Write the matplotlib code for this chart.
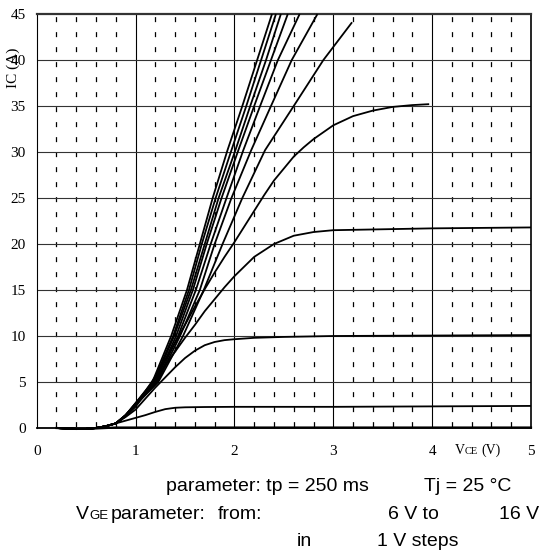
import matplotlib
matplotlib.use('Agg')
import matplotlib.pyplot as plt

plt.rcParams['lines.scale_dashes'] = False

W, H = 553, 551

# axis ticks
x_major = [1, 2, 3, 4]
x_minor = [0.2, 0.4, 0.6, 0.8, 1.2, 1.4, 1.6, 1.8, 2.2, 2.4, 2.6, 2.8,
           3.2, 3.4, 3.6, 3.8, 4.2, 4.4, 4.6, 4.8]
y_major = [5, 10, 15, 20, 25, 30, 35, 40]
x_ticks = [0, 1, 2, 3, 4, 5]
y_ticks = [0, 5, 10, 15, 20, 25, 30, 35, 40, 45]

# shared foot of the curves
vce_foot = [0.2, 0.3, 0.4, 0.5, 0.6, 0.7, 0.8]
ic_foot = [0.0, -0.05, -0.1, -0.1, 0.0, 0.2, 0.5]

# lowest curve, stays on the axis
vce_c1 = [0.2, 0.4, 0.6, 0.8, 1.0, 2.0, 3.0, 4.0, 5.0]
ic_c1 = [0.0, -0.1, -0.05, 0.05, 0.05, 0.05, 0.05, 0.05, 0.05]

# the other curves, lowest to highest gate voltage (foot added on plot)
vce_c2 = [0.9, 1.0, 1.1, 1.2, 1.3, 1.4, 1.5, 1.7, 2.0, 3.0, 4.0, 5.0]
ic_c2 = [0.8, 1.1, 1.4, 1.75, 2.05, 2.2, 2.25, 2.28, 2.3, 2.3, 2.35, 2.4]

vce_c3 = [0.9, 1.0, 1.1, 1.2, 1.3, 1.4, 1.5, 1.6, 1.7, 1.8, 1.9, 2.0,
          2.2, 2.5, 3.0, 4.0, 5.0]
ic_c3 = [1.2, 2.0, 3.2, 4.4, 5.5, 6.6, 7.6, 8.4, 9.0, 9.35, 9.55, 9.65,
         9.8, 9.9, 10.0, 10.05, 10.1]

vce_c4 = [0.9, 1.0, 1.1, 1.2, 1.3, 1.4, 1.5, 1.6, 1.7, 1.8, 1.9, 2.0,
          2.2, 2.4, 2.6, 2.8, 3.0, 3.5, 4.0, 5.0]
ic_c4 = [1.3, 2.3, 3.8, 5.3, 6.8, 8.3, 9.8, 11.2, 12.7, 14.0, 15.3, 16.5,
         18.6, 20.0, 20.9, 21.3, 21.5, 21.6, 21.7, 21.8]

vce_c5 = [0.9, 1.0, 1.1, 1.2, 1.3, 1.4, 1.5, 1.6, 1.7, 1.8, 1.9, 2.0,
          2.1, 2.2, 2.3, 2.4, 2.5, 2.6, 2.7, 2.8, 3.0, 3.2, 3.4, 3.6,
          3.8, 3.97]
ic_c5 = [1.4, 2.6, 4.0, 5.6, 7.4, 9.3, 11.2, 13.2, 15.1, 16.9, 18.6, 20.2,
         21.9, 23.6, 25.3, 26.9, 28.2, 29.5, 30.5, 31.4, 32.9, 33.9, 34.5,
         34.9, 35.1, 35.2]

vce_c6 = [0.9, 1.0, 1.23, 1.48, 1.69, 1.88, 2.08, 2.31, 2.6, 2.9, 3.19]
ic_c6 = [1.3, 2.5, 5.0, 10.0, 15.0, 20.0, 25.0, 30.2, 35.0, 40.0, 44.1]

vce_c7 = [0.9, 1.0, 1.22, 1.45, 1.65, 1.80, 1.97, 2.17, 2.37, 2.58, 2.84]
ic_c7 = [1.3, 2.5, 5.0, 10.0, 15.0, 20.0, 25.0, 30.2, 35.0, 40.0, 45.0]

vce_c8 = [0.9, 1.0, 1.21, 1.43, 1.61, 1.76, 1.92, 2.09, 2.26, 2.44, 2.66]
ic_c8 = [1.3, 2.5, 5.0, 10.0, 15.0, 20.0, 25.0, 30.2, 35.0, 40.0, 45.0]

vce_c9 = [0.9, 1.0, 1.20, 1.41, 1.58, 1.72, 1.87, 2.04, 2.20, 2.37, 2.54]
ic_c9 = [1.4, 2.6, 5.0, 10.0, 15.0, 20.0, 25.0, 30.2, 35.0, 40.0, 45.0]

vce_c10 = [0.9, 1.0, 1.19, 1.39, 1.56, 1.70, 1.84, 2.01, 2.16, 2.32, 2.47]
ic_c10 = [1.4, 2.6, 5.0, 10.0, 15.0, 20.0, 25.0, 30.2, 35.0, 40.0, 45.0]

vce_c11 = [0.9, 1.0, 1.18, 1.38, 1.54, 1.67, 1.81, 1.97, 2.12, 2.27, 2.42]
ic_c11 = [1.4, 2.7, 5.0, 10.0, 15.0, 20.0, 25.0, 30.2, 35.0, 40.0, 45.0]

vce_c12 = [0.9, 1.0, 1.17, 1.36, 1.52, 1.65, 1.78, 1.93, 2.08, 2.23, 2.38]
ic_c12 = [1.4, 2.7, 5.0, 10.0, 15.0, 20.0, 25.0, 30.2, 35.0, 40.0, 45.0]

curves = [(vce_c2, ic_c2), (vce_c3, ic_c3), (vce_c4, ic_c4),
          (vce_c5, ic_c5), (vce_c6, ic_c6), (vce_c7, ic_c7), (vce_c8, ic_c8),
          (vce_c9, ic_c9), (vce_c10, ic_c10), (vce_c11, ic_c11),
          (vce_c12, ic_c12)]


def px(x, y):
    # pixel position -> figure fraction
    return x / W, 1 - y / H


fig = plt.figure(figsize=(W / 100, H / 100), dpi=100)
x0, y0 = px(36.7, 428)
x1, y1 = px(531, 14)
ax = fig.add_axes([x0, y0, x1 - x0, y1 - y0])
ax.set_xlim(0, 5)
ax.set_ylim(0, 45)

# grid
for v in x_minor:
    ax.plot([v, v], [45, 0], color='black', lw=0.9,
            linestyle=(8.9, (3.6, 7.2)), zorder=1)
for v in x_major:
    ax.axvline(v, color='black', lw=0.8, zorder=1)
for i in y_major:
    ax.axhline(i, color='#333333', lw=0.8, zorder=1)

# curves
ax.plot(vce_c1, ic_c1, color='black', lw=1.6, clip_on=False, zorder=4)
for vce, ic in curves:
    ax.plot(vce_foot + vce, ic_foot + ic, color='black', lw=1.3,
            solid_capstyle='butt', clip_on=False, zorder=4)

ax.set_xticks(x_ticks)
ax.set_yticks(y_ticks)
ax.set_xticklabels(['0', '1', '2', '3', '4', '5'])
ax.tick_params(length=0, labelsize=11)
ax.tick_params(axis='x', pad=12)
ax.tick_params(axis='y', pad=8)
for lab in ax.get_xticklabels() + ax.get_yticklabels():
    lab.set_family('Liberation Serif')

ax.spines['left'].set_linewidth(0.8)
ax.spines['top'].set_linewidth(1.6)
ax.spines['top'].set_color('#333333')
ax.spines['right'].set_linewidth(1.2)
ax.spines['bottom'].set_linewidth(1.3)

serif = 'Liberation Serif'
sans = 'Liberation Sans'

# axis titles
fig.text(*px(13, 68), 'IC (A)', rotation=90, ha='center', va='center',
         family=serif, fontsize=11)
fig.text(*px(455, 454), 'V', ha='left', va='baseline', family=serif, fontsize=10)
fig.text(*px(465, 454), 'CE', ha='left', va='baseline', family=serif, fontsize=7.5)
fig.text(*px(481, 454), '(V)', ha='left', va='baseline', family=serif, fontsize=10)

# parameter notes
fs = 14
fig.text(*px(166, 491), 'parameter: tp = 250 ms', ha='left',
         va='baseline', family=sans, fontsize=fs)
fig.text(*px(424, 491), 'Tj = 25 °C', ha='left',
         va='baseline', family=sans, fontsize=fs)
fig.text(*px(76, 519), 'V', ha='left', va='baseline', family=sans, fontsize=fs)
fig.text(*px(89, 519), 'GE', ha='left', va='baseline', family=sans, fontsize=9.5)
fig.text(*px(111, 519), 'parameter:', ha='left', va='baseline', family=sans,
         fontsize=fs)
fig.text(*px(218, 519), 'from:', ha='left', va='baseline', family=sans,
         fontsize=fs)
fig.text(*px(388, 519), '6 V to', ha='left', va='baseline', family=sans,
         fontsize=fs)
fig.text(*px(499, 519), '16 V', ha='left', va='baseline', family=sans,
         fontsize=fs)
fig.text(*px(297, 546), 'in', ha='left', va='baseline', family=sans,
         fontsize=fs)
fig.text(*px(377, 546), '1 V steps', ha='left', va='baseline', family=sans,
         fontsize=fs)

fig.savefig('out.png', dpi=100)
